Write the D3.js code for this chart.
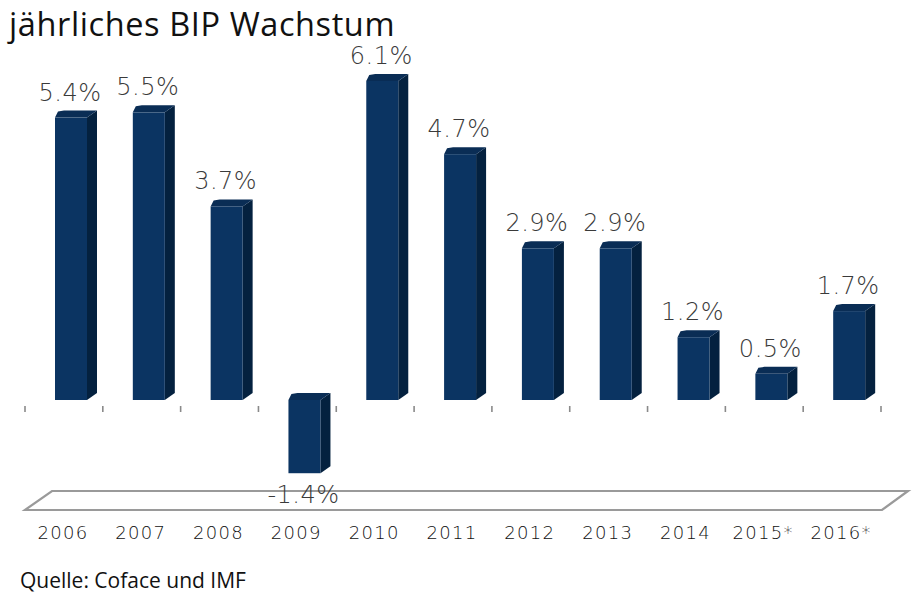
<!DOCTYPE html>
<html><head><meta charset="utf-8">
<script src="https://cdn.jsdelivr.net/npm/d3@7/dist/d3.min.js"></script>
<style>body{margin:0;background:#fff}svg{display:block}</style>
</head><body>
<svg id="c" width="917" height="605"></svg>
<script>
const years = ["2006","2007","2008","2009","2010","2011","2012","2013","2014","2015*","2016*"];
const growth = [5.4, 5.5, 3.7, -1.4, 6.1, 4.7, 2.9, 2.9, 1.2, 0.5, 1.7];
const valueLabels = ["5.4%","5.5%","3.7%","-1.4%","6.1%","4.7%","2.9%","2.9%","1.2%","0.5%","1.7%"];
const title = "jährliches BIP Wachstum";
const source = "Quelle: Coface und IMF";

const svg = d3.select("#c");
const x = d3.scaleBand().domain(years).range([25, 881]).paddingInner(0).paddingOuter(0);
const y = d3.scaleLinear().domain([-2, 7]).range([400 + 2*52.3, 400 - 7*52.3]);
const bw = 32, dx = 10, dy = 7, off = 30;

// title
svg.append("text").attr("x", 9).attr("y", 35.5)
  .style("font-family", "'Open Sans', sans-serif").style("font-size", "32.5px").attr("fill", "#111")
  .style("letter-spacing", "0.6px")
  .text(title);

// floor
svg.append("path")
  .attr("d", `M25,510 L52,491 L908,491 L882,510 Z`)
  .attr("fill", "#fff").attr("stroke", "#9a9a9a").attr("stroke-width", 2.2);

// ticks
const tickPos = years.map(d => x(d)).concat([x.range()[1]]);
svg.selectAll("line.tick").data(tickPos).enter().append("line")
  .attr("x1", d => d).attr("x2", d => d).attr("y1", 406).attr("y2", 412)
  .attr("stroke", "#8a8a8a").attr("stroke-width", 1.6);

const g = svg.selectAll("g.bar").data(years).enter().append("g");
g.each(function(d, i) {
  const v = growth[i];
  const x0 = x(d) + off, x1 = x0 + bw;
  const yT = y(Math.max(v, 0)), yB = y(Math.min(v, 0));
  const s = d3.select(this);
  s.append("path").attr("d", `M${x1},${yT} L${x1+dx},${yT-dy} L${x1+dx},${yB-dy} L${x1},${yB} Z`)
    .attr("fill", "#04213f");
  s.append("path").attr("d", `M${x0},${yT} L${x0+3},${yT-dy+1} L${x0+dx-1},${yT-dy} L${x1+dx},${yT-dy} L${x1},${yT} Z`)
    .attr("fill", "#0a2d55");
  s.append("rect").attr("x", x0).attr("y", yT).attr("width", bw).attr("height", yB - yT)
    .attr("fill", "#0b3462");
  const ly = v >= 0 ? yT - 17 : yB + 30;
  s.append("text").attr("x", x0 + bw/2 - 1).attr("y", ly).attr("text-anchor", "middle")
    .style("font-family", "'DejaVu Sans', sans-serif").style("font-weight", 200).style("font-size", "24px")
    .style("letter-spacing", "0.5px")
    .attr("fill", "#3a3a3a").text(valueLabels[i]);
});

svg.selectAll("text.yr").data(years).enter().append("text")
  .attr("x", d => x(d) + x.bandwidth()/2 - 1).attr("y", 539).attr("text-anchor", "middle")
  .style("font-family", "'DejaVu Sans', sans-serif").style("font-weight", 200).style("font-size", "18px")
  .style("letter-spacing", "1.3px")
  .attr("fill", "#111").text(d => d);

svg.append("text").attr("x", 20).attr("y", 588)
  .style("font-family", "'Open Sans', sans-serif").style("font-size", "21px").attr("fill", "#111")
  .text(source);
</script>
</body></html>
